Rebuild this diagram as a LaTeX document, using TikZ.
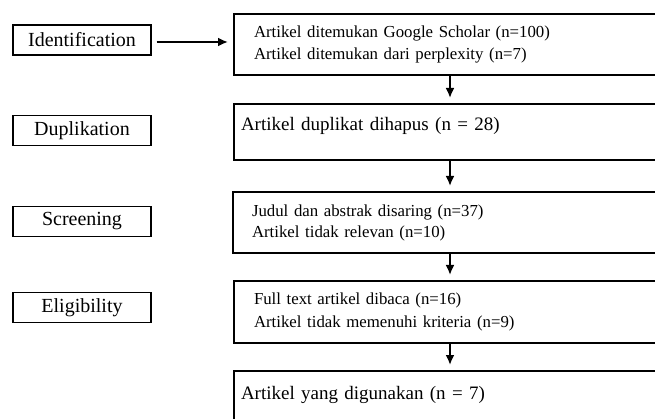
\documentclass[tikz,border=0pt]{standalone}
\usepackage{fontspec}
\setmainfont{Liberation Serif}
\usetikzlibrary{arrows.meta,positioning}

\begin{document}
\begin{tikzpicture}[x=1pt,y=-1pt]
\tikzstyle{phase}=[draw,line width=1.2pt,minimum width=138pt,minimum height=30pt,inner sep=0pt,font=\fontsize{20}{24}\selectfont]
\tikzstyle{stepbox}=[draw,line width=2pt,anchor=north west,minimum width=432pt,align=left,font=\fontsize{16.8}{22}\selectfont]
\tikzstyle{bigstep}=[stepbox,font=\fontsize{19}{24}\selectfont,inner xsep=7pt,text width=418pt,text height=14pt]
\tikzstyle{flow}=[line width=2pt,-{Latex[length=10pt,width=9pt]},shorten >=5pt]
\useasboundingbox (0,0) rectangle (655,419);
\clip (0,0) rectangle (655,419);

% left column
\node[phase] (ident) at (82,40) {Identification};
\node[phase] (dupl) at (82,130.5) {Duplikation};
\node[phase] (screen) at (82,221.5) {Screening};
\node[phase] (elig) at (82,307.5) {Eligibility};

% right column
\node[stepbox,minimum height=61pt,inner xsep=20pt,text width=392pt] (found) at (233,13)
  {Artikel ditemukan Google Scholar (n=100)\\Artikel ditemukan dari perplexity (n=7)};
\node[bigstep,minimum height=56pt,text depth=16pt] (dedup) at (233,103)
  {Artikel duplikat dihapus (n = 28)};
\node[stepbox,minimum height=61pt,inner xsep=19pt,text width=394pt,font=\fontsize{16.8}{21}\selectfont] (judul) at (232,191)
  {Judul dan abstrak disaring (n=37)\\Artikel tidak relevan (n=10)};
\node[stepbox,minimum height=62pt,inner xsep=20pt,text width=392pt,font=\fontsize{16.8}{23}\selectfont] (full) at (233,280)
  {Full text artikel dibaca (n=16)\\Artikel tidak memenuhi kriteria (n=9)};
\node[bigstep,minimum height=62pt,text depth=20pt] (used) at (233,370)
  {Artikel yang digunakan (n = 7)};

\draw[flow,shorten <=5pt] ([yshift=-2pt]ident.east) -- ([yshift=-2pt]ident.east -| found.west);
\draw[flow] (found.south) -- (found.south |- dedup.north);
\draw[flow] (dedup.south) -- (dedup.south |- judul.north);
\draw[flow] (found.south |- judul.south) -- (found.south |- full.north);
\draw[flow] (full.south) -- (full.south |- used.north);
\end{tikzpicture}
\end{document}
